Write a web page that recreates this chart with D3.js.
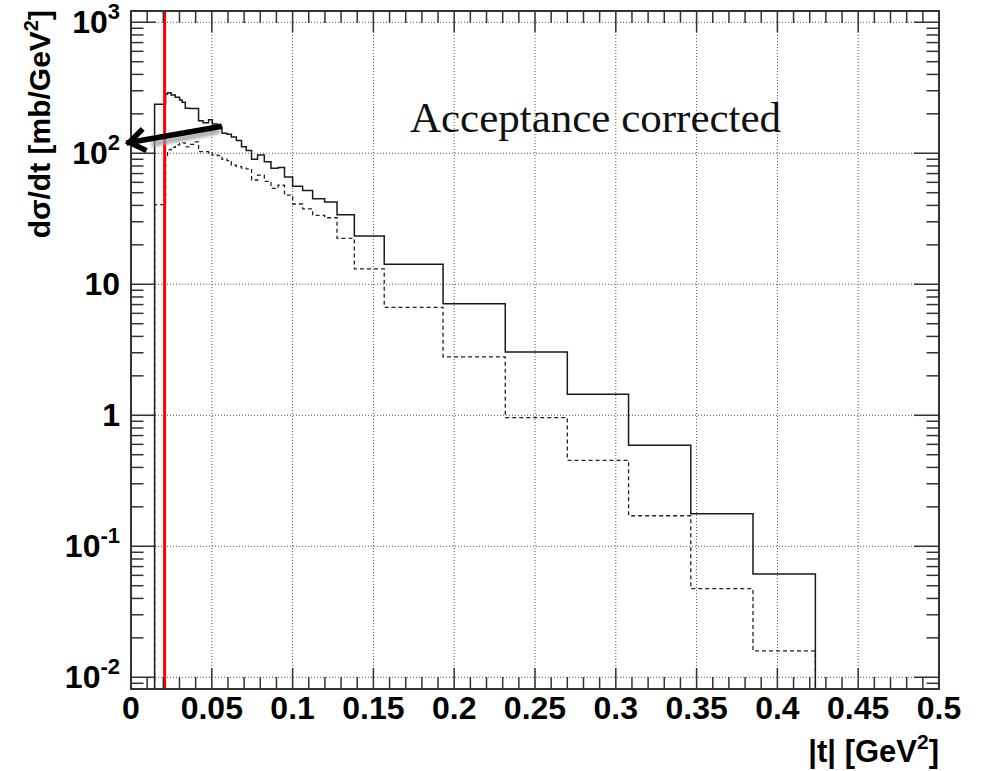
<!DOCTYPE html>
<html>
<head>
<meta charset="utf-8">
<script src="https://cdn.jsdelivr.net/npm/d3@7"></script>
<style>
	body { margin: 0; background: #fff; }
	svg { font-family: "Liberation Sans", Arial, sans-serif; }
</style>
</head>
<body>
<script>
// |t| bin edges [GeV^2] (variable width bins)
const binEdges = [0.0146, 0.0214, 0.0226, 0.0248, 0.0274, 0.0301, 0.0316, 0.0336, 0.0364, 0.0392,
	0.0418, 0.0446, 0.0480, 0.0503, 0.0534, 0.0563, 0.0594, 0.0621, 0.0652, 0.0684,
	0.0713, 0.0746, 0.0783, 0.0825, 0.0866, 0.0910, 0.0950, 0.1000, 0.1062, 0.1124,
	0.1198, 0.1275, 0.1382, 0.1567, 0.1931, 0.2316, 0.2700, 0.3079, 0.3464, 0.3849, 0.4235];

// acceptance corrected dσ/dt (solid)
const corrected = [237, 282, 290, 279, 268, 255, 245, 221, 220, 220,
	177, 171, 180, 167, 158, 142, 140, 133, 125, 112,
	105, 90, 97, 86, 77, 78, 66, 56, 52, 45,
	42.5, 34, 23.4, 14.2, 7.1, 3.04, 1.45, 0.59, 0.177, 0.0615];

// uncorrected dσ/dt (dashed)
const uncorrected = [40.6, 94, 106, 111, 116, 119, 120, 112, 117, 122,
	103, 103, 100.5, 97, 96, 90, 88, 81, 79, 77,
	76, 62.5, 68, 61, 54, 57, 48, 41, 37.6, 33.6,
	32.2, 22.4, 13.1, 6.67, 2.79, 0.959, 0.453, 0.171, 0.0475, 0.0159];

const xTickValues = [0, 0.05, 0.1, 0.15, 0.2, 0.25, 0.3, 0.35, 0.4, 0.45, 0.5];
const xTickLabels = ["0", "0.05", "0.1", "0.15", "0.2", "0.25", "0.3", "0.35", "0.4", "0.45", "0.5"];
const yTickValues = [0.01, 0.1, 1, 10, 100, 1000];
const yTickLabels = [["10", "-2"], ["10", "-1"], ["1", ""], ["10", ""], ["10", "2"], ["10", "3"]];

const cutT = 0.0208; // red vertical line
const arrowFrom = [0.0563, 161];
const arrowTo = [-0.001, 121];
const noteAt = [0.1726, 146];

const width = 986, height = 771;
const padL = 131, padR = 939, padT = 11, padB = 689;

const x = d3.scaleLinear().domain([0, 0.5]).range([padL, padR]);
const y = d3.scaleLog().domain([0.00814, 1219]).range([padB, padT]);
const yMin = y.domain()[0];

const svg = d3.select("body").append("svg")
	.attr("width", width)
	.attr("height", height);

const defs = svg.append("defs");
defs.append("clipPath").attr("id", "plot")
	.append("rect").attr("x", padL).attr("y", padT)
	.attr("width", padR - padL).attr("height", padB - padT);

defs.append("filter").attr("id", "soft")
	.attr("x", "-20%").attr("y", "-50%").attr("width", "140%").attr("height", "200%")
	.append("feGaussianBlur").attr("stdDeviation", 1.6);

// grid
const grid = svg.append("g")
	.attr("stroke", "#555")
	.attr("stroke-width", 1)
	.attr("stroke-dasharray", "1,2");
grid.selectAll(".gx").data(xTickValues).join("line")
	.attr("x1", d => x(d)).attr("x2", d => x(d))
	.attr("y1", padT).attr("y2", padB);
grid.selectAll(".gy").data(yTickValues).join("line")
	.attr("x1", padL).attr("x2", padR)
	.attr("y1", d => y(d)).attr("y2", d => y(d));

// histograms
function histPath(vals) {
	const pts = [[binEdges[0], yMin]];
	vals.forEach((v, i) => pts.push([binEdges[i], v]));
	pts.push([binEdges[vals.length], vals[vals.length - 1]]);
	pts.push([binEdges[vals.length], yMin]);
	return d3.line()
		.x(d => x(d[0]))
		.y(d => y(d[1]))
		.curve(d3.curveStepAfter)(pts);
}

const hist = svg.append("g").attr("clip-path", "url(#plot)").attr("fill", "none");
hist.append("path")
	.attr("d", histPath(uncorrected))
	.attr("stroke", "#222")
	.attr("stroke-width", 1.3)
	.attr("stroke-dasharray", "4,3");
hist.append("path")
	.attr("d", histPath(corrected))
	.attr("stroke", "#1a1a1a")
	.attr("stroke-width", 1.5);

// red cut line
svg.append("line")
	.attr("x1", x(cutT)).attr("x2", x(cutT))
	.attr("y1", padT).attr("y2", padB)
	.attr("stroke", "#f00")
	.attr("stroke-width", 3);

// frame and ticks
const axes = svg.append("g").attr("stroke", "#333").attr("fill", "none");
axes.append("rect")
	.attr("x", padL).attr("y", padT)
	.attr("width", padR - padL).attr("height", padB - padT)
	.attr("stroke-width", 2);

const xMinor = x.ticks(50);
const isMajorX = d => Math.abs(d / 0.05 - Math.round(d / 0.05)) < 1e-6;
axes.selectAll(".tb").data(xMinor).join("line")
	.attr("x1", d => x(d)).attr("x2", d => x(d))
	.attr("y1", padB).attr("y2", d => padB - (isMajorX(d) ? 21 : 12))
	.attr("stroke-width", 1.5);
axes.selectAll(".tt").data(xMinor).join("line")
	.attr("x1", d => x(d)).attr("x2", d => x(d))
	.attr("y1", padT).attr("y2", d => padT + (isMajorX(d) ? 21 : 12))
	.attr("stroke-width", 1.5);

const yMinor = y.ticks();
const isMajorY = d => Math.abs(Math.log10(d) - Math.round(Math.log10(d))) < 1e-6;
axes.selectAll(".tl").data(yMinor).join("line")
	.attr("x1", padL).attr("x2", d => padL + (isMajorY(d) ? 25 : 12.5))
	.attr("y1", d => y(d)).attr("y2", d => y(d))
	.attr("stroke-width", 1.5);
axes.selectAll(".tr").data(yMinor).join("line")
	.attr("x1", padR).attr("x2", d => padR - (isMajorY(d) ? 25 : 12.5))
	.attr("y1", d => y(d)).attr("y2", d => y(d))
	.attr("stroke-width", 1.5);

// tick labels
svg.append("g")
	.attr("font-size", 32)
	.attr("font-weight", "bold")
	.attr("text-anchor", "middle")
	.selectAll("text")
	.data(xTickValues)
	.join("text")
	.attr("x", d => x(d))
	.attr("y", 719)
	.text((d, i) => xTickLabels[i]);

const yl = svg.append("g")
	.attr("font-size", 32)
	.attr("font-weight", "bold")
	.attr("text-anchor", "end")
	.selectAll("text")
	.data(yTickValues)
	.join("text")
	.attr("x", padL - 11)
	.attr("y", d => y(d) + 11);
yl.append("tspan").text((d, i) => yTickLabels[i][0]);
yl.append("tspan")
	.attr("font-size", 22)
	.attr("dy", -14)
	.text((d, i) => yTickLabels[i][1]);

// axis titles
const xt = svg.append("text")
	.attr("x", padR)
	.attr("y", 762)
	.attr("text-anchor", "end")
	.attr("font-size", 31)
	.attr("font-weight", "bold");
xt.append("tspan").text("|t| [GeV");
xt.append("tspan").attr("font-size", 21).attr("dy", -13).text("2");
xt.append("tspan").attr("dy", 13).text("]");

const yt = svg.append("text")
	.attr("transform", `translate(50,${padT - 1}) rotate(-90)`)
	.attr("text-anchor", "end")
	.attr("font-size", 30)
	.attr("font-weight", "bold");
yt.append("tspan").text("dσ/dt [mb/GeV");
yt.append("tspan").attr("font-size", 20).attr("dy", -12).text("2");
yt.append("tspan").attr("dy", 12).text("]");

// annotation text
svg.append("text")
	.attr("x", x(noteAt[0]))
	.attr("y", y(noteAt[1]))
	.style("font-family", "'Liberation Serif', 'Times New Roman', serif")
	.attr("font-size", 43)
	.attr("fill", "#111")
	.text("Acceptance corrected");

// arrow with shadow
const ax0 = x(arrowFrom[0]), ay0 = y(arrowFrom[1]);
const ax1 = x(arrowTo[0]), ay1 = y(arrowTo[1]);
const ang = Math.atan2(ay1 - ay0, ax1 - ax0);
const headLen = 19, headAng = 0.62;
const headPts = [
	[ax1 - headLen * Math.cos(ang - headAng), ay1 - headLen * Math.sin(ang - headAng)],
	[ax1, ay1],
	[ax1 - headLen * Math.cos(ang + headAng), ay1 - headLen * Math.sin(ang + headAng)]
];

svg.append("line")
	.attr("x1", ax0 - 2).attr("y1", ay0 + 5)
	.attr("x2", ax1 + 22).attr("y2", ay1 + 2)
	.attr("stroke", "#999")
	.attr("stroke-width", 6)
	.attr("opacity", 0.75)
	.attr("filter", "url(#soft)");

svg.append("line")
	.attr("x1", ax0).attr("y1", ay0)
	.attr("x2", ax1 + 3 * Math.cos(ang)).attr("y2", ay1 + 3 * Math.sin(ang))
	.attr("stroke", "#000")
	.attr("stroke-width", 5.5);

svg.append("path")
	.attr("d", d3.line()(headPts))
	.attr("fill", "none")
	.attr("stroke", "#000")
	.attr("stroke-width", 5.5)
	.attr("stroke-linejoin", "miter");
</script>
</body>
</html>
